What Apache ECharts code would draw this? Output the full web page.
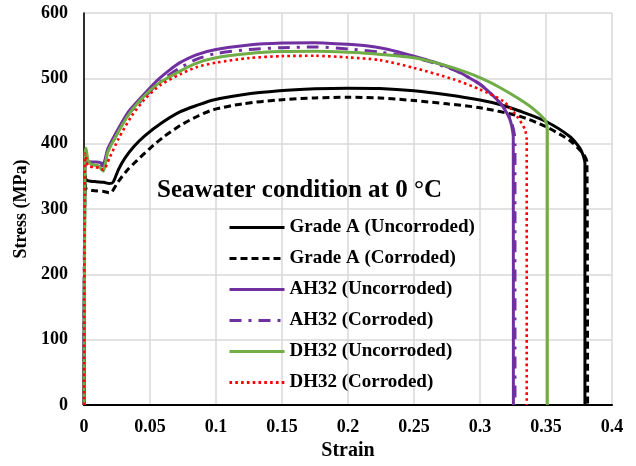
<!DOCTYPE html>
<html>
<head>
<meta charset="utf-8">
<script src="https://cdn.jsdelivr.net/npm/echarts@6/dist/echarts.min.js"></script>
<style>
  html, body { margin: 0; padding: 0; background: #fff; }
  #chart { width: 636px; height: 466px; }
</style>
</head>
<body>
<div id="chart"></div>
<script>
// Stress–strain curves, [strain, stress in MPa]
const gradeAUncorroded = [
  [0,0],[0.0008,352],[0.002,344],[0.008,342],[0.015,341],[0.019,339],[0.022,341],
  [0.026,360],[0.031,378],[0.038,396],[0.046,412],[0.059,432],[0.073,449],[0.086,459],
  [0.098,467],[0.12,475],[0.148,481],[0.175,484],[0.2,485],[0.224,484.5],[0.25,481],
  [0.275,475],[0.3,467],[0.315,460],[0.33,450],[0.35,434],[0.368,411],[0.376,392],
  [0.3785,380],[0.3795,370],[0.3795,0]
];
const gradeACorroded = [
  [0,0],[0.0008,338],[0.002,330],[0.008,328],[0.015,327],[0.019,325],[0.021,326],
  [0.026,342],[0.033,360],[0.04,374],[0.05,393],[0.06,410],[0.073,428],[0.086,442],
  [0.098,452],[0.12,461],[0.148,467],[0.175,470],[0.2,471],[0.224,470],[0.25,466],
  [0.275,461],[0.3,455],[0.33,442],[0.35,426],[0.368,405],[0.378,385],[0.381,372],
  [0.3815,0]
];
const ah32Uncorroded = [
  [0,0],[0.0008,378],[0.002,373],[0.008,372],[0.0125,371],[0.0145,369],[0.018,392],
  [0.023,412],[0.033,447],[0.042,468],[0.055,496],[0.065,513],[0.0727,524],[0.085,536],
  [0.1,544],[0.125,551],[0.15,554],[0.175,554.5],[0.2,552],[0.2167,549],[0.235,542],
  [0.25,534],[0.265,525],[0.28,514],[0.29,503],[0.3,491],[0.307,479],[0.3126,468],
  [0.317,458],[0.32,448],[0.3225,438],[0.324,427],[0.3252,410],[0.3253,0]
];
const ah32Corroded = [
  [0,0],[0.0008,374],[0.002,370],[0.008,369],[0.0125,368],[0.0145,366],[0.018,388],
  [0.023,408],[0.033,443],[0.042,463],[0.055,490],[0.065,506],[0.0727,516],[0.085,529],
  [0.1,538],[0.125,544],[0.15,547],[0.175,548],[0.2,545],[0.224,540],[0.25,532],
  [0.28,513],[0.3,491],[0.3126,468],[0.32,450],[0.324,432],[0.326,415],[0.3265,400],
  [0.3265,0]
];
const dh32Uncorroded = [
  [0,0],[0.0008,385],[0.0015,393],[0.003,375],[0.006,368],[0.011,366],[0.0135,360],
  [0.0145,358],[0.018,387],[0.023,407],[0.033,442],[0.041,463],[0.055,490],[0.0727,511],
  [0.085,523],[0.1,531.5],[0.125,538],[0.15,541],[0.175,541.5],[0.2,540],[0.2167,538],
  [0.25,531.5],[0.28,516],[0.3,501],[0.315,486],[0.33,468],[0.34,454],[0.349,437],
  [0.3505,430],[0.351,420],[0.351,0]
];
const dh32Corroded = [
  [0,0],[0.0008,385],[0.0015,380],[0.003,366],[0.008,364],[0.012,363],[0.0146,360],
  [0.0195,379],[0.026,407],[0.036,442],[0.046,468],[0.058,490],[0.0727,506],[0.085,517],
  [0.1,524],[0.125,531],[0.15,534],[0.175,534.5],[0.2,532],[0.224,528],[0.25,516],
  [0.28,498.5],[0.3,483],[0.3177,465],[0.328,442],[0.334,422],[0.3354,405],[0.3354,0]
];

const seriesNames = [
  'Grade A (Uncorroded)', 'Grade A (Corroded)',
  'AH32 (Uncorroded)', 'AH32 (Corroded)',
  'DH32 (Uncorroded)', 'DH32 (Corroded)'
];
const seriesData = [gradeAUncorroded, gradeACorroded, ah32Uncorroded, ah32Corroded, dh32Uncorroded, dh32Corroded];
const chartTitle = 'Seawater condition at 0 \u00B0C';
const xTicks = [0, 0.05, 0.1, 0.15, 0.2, 0.25, 0.3, 0.35, 0.4];
const yTicks = [0, 100, 200, 300, 400, 500, 600];

const FONT = '"Liberation Serif", "Times New Roman", serif';
const lineStyles = [
  { color: '#000000', width: 3, type: 'solid' },
  { color: '#000000', width: 3, type: [7, 4] },
  { color: '#7030A0', width: 3, type: 'solid' },
  { color: '#7030A0', width: 3, type: [12, 7, 3, 7] },
  { color: '#70AD47', width: 3, type: 'solid' },
  { color: '#FF0000', width: 2.6, type: [2.6, 3.2] }
];

const chart = echarts.init(document.getElementById('chart'), null, { renderer: 'canvas' });

chart.setOption({
  animation: false,
  backgroundColor: '#ffffff',
  title: {
    text: chartTitle,
    left: 157,
    top: 178,
    padding: 0,
    textStyle: { fontFamily: FONT, fontWeight: 'bold', fontSize: 25, color: '#000' }
  },
  legend: {
    orient: 'vertical',
    left: 228,
    top: 218,
    padding: 0,
    itemWidth: 55,
    itemHeight: 14,
    itemGap: 12,
    itemStyle: { color: 'rgba(0,0,0,0)', borderWidth: 0, opacity: 0 },
    lineStyle: { width: 3 },
    textStyle: { fontFamily: FONT, fontWeight: 'bold', fontSize: 19, color: '#000', padding: [0, 0, 0, 0] },
    data: seriesNames
  },
  grid: { left: 84, right: 24, top: 13, bottom: 60, containLabel: false },
  xAxis: {
    type: 'value',
    min: xTicks[0],
    max: xTicks[xTicks.length - 1],
    interval: 0.05,
    name: 'Strain',
    nameLocation: 'middle',
    nameGap: 34,
    nameTextStyle: { fontFamily: FONT, fontWeight: 'bold', fontSize: 20, color: '#000' },
    axisLine: { onZero: false, lineStyle: { color: '#000', width: 2.2 } },
    axisTick: { show: false },
    axisLabel: {
      margin: 13,
      fontFamily: FONT, fontWeight: 'bold', fontSize: 18, color: '#000',
      formatter: v => String(Math.round(v * 100) / 100)
    },
    splitLine: { show: true, lineStyle: { color: '#d9d9d9', width: 1.5 } }
  },
  yAxis: {
    type: 'value',
    min: yTicks[0],
    max: yTicks[yTicks.length - 1],
    interval: 100,
    name: 'Stress (MPa)',
    nameLocation: 'middle',
    nameGap: 51,
    nameTextStyle: { fontFamily: FONT, fontWeight: 'bold', fontSize: 18, color: '#000' },
    axisLine: { show: true, lineStyle: { color: '#000', width: 1.6 } },
    axisTick: { show: false },
    axisLabel: { margin: 16, fontFamily: FONT, fontWeight: 'bold', fontSize: 18, color: '#000' },
    splitLine: { show: true, lineStyle: { color: '#d9d9d9', width: 1.5 } }
  },
  series: seriesNames.map((name, i) => ({
    name,
    type: 'line',
    data: seriesData[i],
    symbol: 'none',
    showSymbol: false,
    smooth: 0.25,
    clip: true,
    z: 2 + i,
    color: lineStyles[i].color,
    lineStyle: lineStyles[i],
    emphasis: { disabled: true }
  }))
});
</script>
</body>
</html>
